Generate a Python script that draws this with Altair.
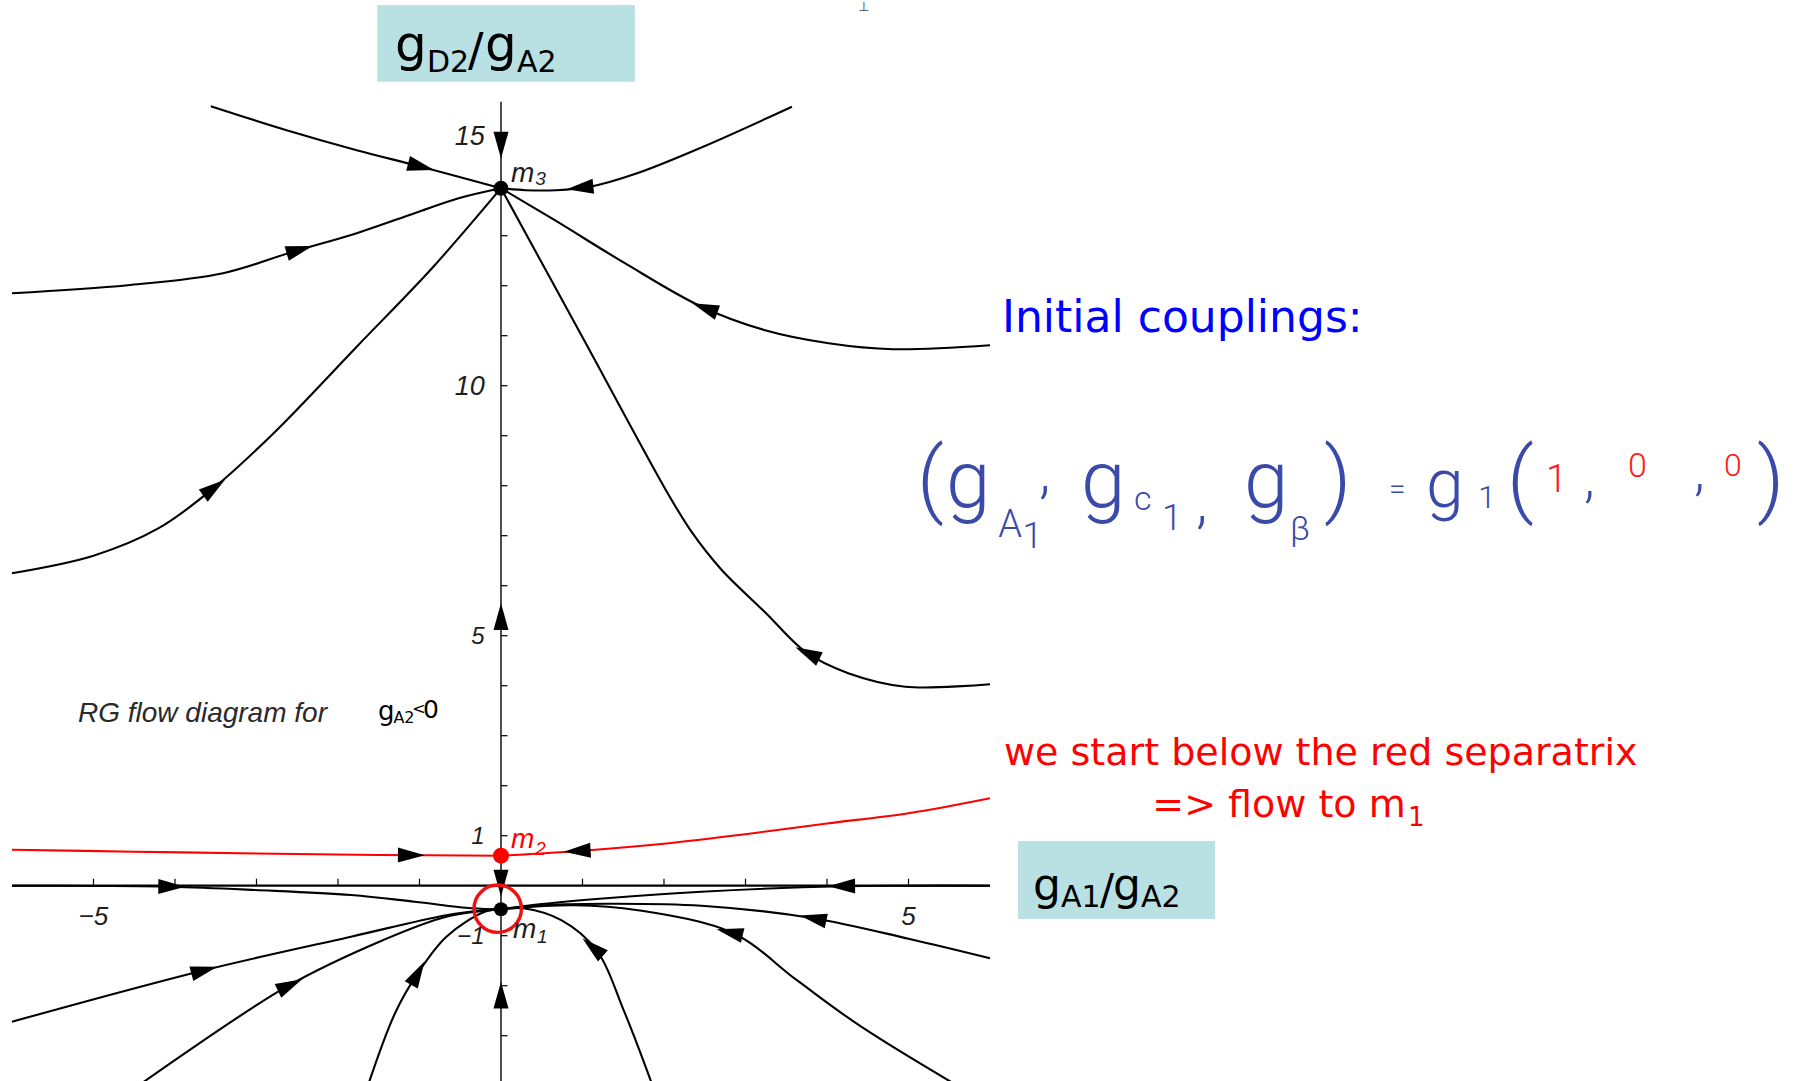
import math
import altair as alt
import pandas as pd

# ---------------------------------------------------------------- canvas / scales
W, H = 1806, 1081
X_DOMAIN = [-6.147, 16.012]      # g_A1 / g_A2
Y_DOMAIN = [-3.906, 17.714]      # g_D2 / g_A2
PX = W / (X_DOMAIN[1] - X_DOMAIN[0])   # pixels per unit, horizontal
PY = H / (Y_DOMAIN[1] - Y_DOMAIN[0])   # pixels per unit, vertical

XS = alt.Scale(domain=X_DOMAIN, nice=False, zero=False)
YS = alt.Scale(domain=Y_DOMAIN, nice=False, zero=False)


def xe(field="x"):
    return alt.X(f"{field}:Q", scale=XS, axis=None)


def ye(field="y"):
    return alt.Y(f"{field}:Q", scale=YS, axis=None)


# ---------------------------------------------------------------- fixed points
M1 = (0.0, -0.47)
M2 = (0.0, 0.60)
M3 = (0.0, 13.95)

# ---------------------------------------------------------------- flow lines (listed along the flow)
c1_x = [-3.56, -2.63, -1.77, -0.98, 0.0]
c1_y = [15.59, 15.11, 14.71, 14.38, 13.95]

c2_x = [3.57, 2.48, 1.67, 1.09, 0.68, 0.30, 0.0]
c2_y = [15.58, 14.78, 14.25, 13.98, 13.91, 13.91, 13.95]

c3_x = [-6.0, -4.58, -3.41, -2.55, -1.77, -1.06, -0.52, 0.0]
c3_y = [11.85, 12.01, 12.25, 12.68, 13.05, 13.45, 13.75, 13.95]

c4_x = [-6.0, -5.0, -4.2, -3.52, -2.79, -1.77, -0.83, 0.0]
c4_y = [6.25, 6.60, 7.15, 7.96, 9.05, 10.78, 12.38, 13.95]

c5_x = [6.0, 4.81, 4.02, 3.24, 2.46, 1.52, 0.66, 0.0]
c5_y = [10.81, 10.73, 10.85, 11.11, 11.58, 12.45, 13.31, 13.95]

c7_x = [6.0, 4.96, 4.26, 3.75, 3.24, 2.70, 2.35, 2.07, 1.0, 0.0]
c7_y = [4.03, 3.98, 4.25, 4.66, 5.47, 6.33, 7.05, 7.78, 10.97, 13.95]

lu_x = [-6.0, -5.0, -4.04, -3.02, -1.84, -1.06, -0.36, 0.0]
lu_y = [0.0, -0.005, -0.02, -0.086, -0.186, -0.32, -0.452, -0.47]

ru_x = [6.0, 5.0, 4.18, 2.46, 1.29, 0.50, 0.0]
ru_y = [0.0, 0.0, -0.01, -0.12, -0.25, -0.366, -0.47]

r2_x = [6.0, 5.0, 3.83, 2.46, 1.29, 0.40, 0.0]
r2_y = [-1.45, -1.06, -0.65, -0.40, -0.36, -0.40, -0.47]

r3_x = [5.60, 4.42, 3.63, 2.85, 1.68, 0.90, 0.0]
r3_y = [-4.00, -2.82, -1.89, -0.95, -0.49, -0.39, -0.47]

r4_x = [1.86, 1.52, 1.17, 0.74, 0.27, 0.0]
r4_y = [-4.00, -2.55, -1.29, -0.69, -0.45, -0.47]

l1_x = [-6.0, -3.64, -1.84, -0.67, -0.20, 0.0]
l1_y = [-2.72, -1.69, -1.02, -0.59, -0.49, -0.47]

l2_x = [-4.45, -2.63, -1.45, -0.67, 0.0]
l2_y = [-4.00, -2.02, -1.09, -0.62, -0.47]

l3_x = [-1.633, -1.30, -1.02, -0.67, -0.20, 0.0]
l3_y = [-4.00, -2.55, -1.75, -1.02, -0.52, -0.47]

# red separatrix, both halves flowing into m2
sep_l_x = [-6.0, -4.5, -3.0, -1.5, 0.0]
sep_l_y = [0.72, 0.68, 0.645, 0.615, 0.60]
sep_r_x = [6.0, 5.0, 4.0, 3.0, 2.0, 1.0, 0.0]
sep_r_y = [1.75, 1.45, 1.245, 1.03, 0.84, 0.70, 0.60]

# flow along the g_D2/g_A2 axis itself
ax_top_x, ax_top_y = [0.0, 0.0], [15.68, 13.95]
ax_up_x, ax_up_y = [0.0, 0.0], [0.60, 13.95]
ax_dn_x, ax_dn_y = [0.0, 0.0], [0.60, -0.47]
ax_bot_x, ax_bot_y = [0.0, 0.0], [-3.906, -0.47]

BLACK_FLOWS = {
    "c1": (c1_x, c1_y), "c2": (c2_x, c2_y), "c3": (c3_x, c3_y),
    "c4": (c4_x, c4_y), "c5": (c5_x, c5_y), "c7": (c7_x, c7_y),
    "lu": (lu_x, lu_y), "ru": (ru_x, ru_y), "r2": (r2_x, r2_y),
    "r3": (r3_x, r3_y), "r4": (r4_x, r4_y), "l1": (l1_x, l1_y),
    "l2": (l2_x, l2_y), "l3": (l3_x, l3_y),
}
RED_FLOWS = {"sep_l": (sep_l_x, sep_l_y), "sep_r": (sep_r_x, sep_r_y)}
AXIS_FLOWS = {
    "ax_top": (ax_top_x, ax_top_y), "ax_up": (ax_up_x, ax_up_y),
    "ax_dn": (ax_dn_x, ax_dn_y), "ax_bot": (ax_bot_x, ax_bot_y),
}

# arrowheads: (flow line, approximate location)
ARROWS = [
    ("c1", -0.98, 14.38), ("c2", 0.97, 13.95), ("c3", -2.47, 12.71),
    ("c4", -3.52, 7.96), ("c5", 2.50, 11.55), ("c7", 3.75, 4.62),
    ("sep_l", -1.10, 0.61), ("sep_r", 0.935, 0.69),
    ("lu", -4.04, -0.02), ("ru", 4.18, -0.01),
    ("r2", 3.83, -0.65), ("r3", 2.81, -0.90), ("r4", 1.13, -1.22),
    ("l1", -3.64, -1.69), ("l2", -2.59, -1.98), ("l3", -1.02, -1.75),
    ("ax_top", 0.0, 14.81), ("ax_up", 0.0, 5.38),
    ("ax_dn", 0.0, 0.05), ("ax_bot", 0.0, -2.19),
]

Y_TICKS = [v for v in range(-3, 16) if v != 0]
X_TICKS = [v for v in range(-5, 6) if v != 0]
Y_TICK_LABELS = [15, 10, 5, 1, -1]
X_TICK_LABELS = [-5, 5]


# ---------------------------------------------------------------- helpers
def curves_frame(curves):
    rows = []
    for name, (xs, ys) in curves.items():
        for i, (x, y) in enumerate(zip(xs, ys)):
            rows.append({"curve": name, "ord": i, "x": x, "y": y})
    return pd.DataFrame(rows)


def arrow_on(xs, ys, qx, qy):
    """Snap a point onto a flow line and return it with the heading angle."""
    best = None
    for i in range(len(xs) - 1):
        ax, ay = xs[i] * PX, ys[i] * PY
        bx, by = xs[i + 1] * PX, ys[i + 1] * PY
        px, py = qx * PX, qy * PY
        dx, dy = bx - ax, by - ay
        l2 = dx * dx + dy * dy
        t = 0.0 if l2 == 0 else max(0.0, min(1.0, ((px - ax) * dx + (py - ay) * dy) / l2))
        cx, cy = ax + t * dx, ay + t * dy
        d = (px - cx) ** 2 + (py - cy) ** 2
        if best is None or d < best[0]:
            best = (d, cx / PX, cy / PY, dx, dy)
    _, x, y, dx, dy = best
    return x, y, math.degrees(math.atan2(dx, dy)) % 360


ALL_FLOWS = {**BLACK_FLOWS, **RED_FLOWS, **AXIS_FLOWS}
arrow_rows = []
for name, ax_, ay_ in ARROWS:
    xs, ys = ALL_FLOWS[name]
    x, y, ang = arrow_on(xs, ys, ax_, ay_)
    arrow_rows.append({"x": x, "y": y, "angle": ang})
arrows_df = pd.DataFrame(arrow_rows)

ARROW_SHAPE = "M0,-1L0.56,1L-0.56,1Z"

# ---------------------------------------------------------------- layers
black_lines = alt.Chart(curves_frame(BLACK_FLOWS)).mark_line(
    color="black", strokeWidth=2.1, interpolate="catmull-rom"
).encode(x=xe(), y=ye(), detail="curve:N", order="ord:Q")

red_lines = alt.Chart(curves_frame(RED_FLOWS)).mark_line(
    color="#ff0000", strokeWidth=2.1, interpolate="catmull-rom"
).encode(x=xe(), y=ye(), detail="curve:N", order="ord:Q")

axes_df = pd.DataFrame([
    {"x": 0.0, "x2": 0.0, "y": Y_DOMAIN[0], "y2": 15.68, "w": 1.4},
    {"x": -6.0, "x2": 6.0, "y": 0.0, "y2": 0.0, "w": 2.2},
])
axes = alt.Chart(axes_df).mark_rule(color="black").encode(
    x=xe(), x2="x2:Q", y=ye(), y2="y2:Q",
    strokeWidth=alt.StrokeWidth("w:Q", scale=None),
)

tick_rows = [{"x": 0.0, "x2": 6.5 / PX, "y": v, "y2": v} for v in Y_TICKS]
tick_rows += [{"x": v, "x2": v, "y": 0.0, "y2": 7.0 / PY} for v in X_TICKS]
ticks = alt.Chart(pd.DataFrame(tick_rows)).mark_rule(color="black", strokeWidth=1.2).encode(
    x=xe(), x2="x2:Q", y=ye(), y2="y2:Q"
)

arrows = alt.Chart(arrows_df).mark_point(
    shape=ARROW_SHAPE, filled=True, color="black", size=720, opacity=1, strokeWidth=0
).encode(x=xe(), y=ye(), angle=alt.Angle("angle:Q", scale=None))

pts_df = pd.DataFrame([
    {"x": M3[0], "y": M3[1], "c": "black", "s": 225},
    {"x": M2[0], "y": M2[1], "c": "#ff0000", "s": 256},
    {"x": M1[0], "y": M1[1], "c": "black", "s": 196},
])
points = alt.Chart(pts_df).mark_point(shape="circle", filled=True, opacity=1, strokeWidth=0).encode(
    x=xe(), y=ye(),
    color=alt.Color("c:N", scale=None),
    size=alt.Size("s:Q", scale=None),
)

ring = alt.Chart(pd.DataFrame([{"x": -0.04, "y": -0.46}])).mark_point(
    shape="circle", filled=False, color="#ee1111", size=2247, strokeWidth=3.4, opacity=1
).encode(x=xe(), y=ye())

boxes_df = pd.DataFrame([
    {"x": -1.518, "x2": 1.644, "y": 16.08, "y2": 17.614},
    {"x": 6.344, "x2": 8.761, "y": -0.666, "y2": 0.894},
])
boxes = alt.Chart(boxes_df).mark_rect(color="#b9e0e3").encode(
    x=xe(), x2="x2:Q", y=ye(), y2="y2:Q"
)


def text_layer(rows, font, align="left", style="normal", weight="normal"):
    df = pd.DataFrame(rows, columns=["text", "x", "y", "size", "color"])
    return alt.Chart(df).mark_text(
        align=align, baseline="alphabetic", font=font, fontStyle=style, fontWeight=weight
    ).encode(
        x=xe(), y=ye(), text="text:N",
        size=alt.Size("size:Q", scale=None),
        color=alt.Color("color:N", scale=None),
    )


INK = "#1e1e1e"


def fmt(v):
    return str(v) if v >= 0 else "\u2212" + str(-v)


# tick labels (Mathematica style, italic)
ylab_rows = []
for v in Y_TICK_LABELS:
    size = 27 if abs(v) >= 10 else 24
    ylab_rows.append([fmt(v), -0.2, v - 0.36 * size / PY, size, INK])
xlab_rows = [[fmt(v), v, -0.786, 26, INK] for v in X_TICK_LABELS]

tick_labels_y = text_layer(ylab_rows, "Liberation Sans", align="right", style="italic")
tick_labels_x = text_layer(xlab_rows, "Liberation Sans", align="center", style="italic")

# fixed point names
m_rows = [
    ["m", 0.123, 14.08, 28, INK],
    ["m", 0.123, 0.748, 28, "#ff0000"],
    ["m", 0.147, -1.052, 28, INK],
    ["RG flow diagram for", -5.19, 3.28, 28, "#2a2a2a"],
]
m_sub_rows = [
    ["3", 0.42, 14.01, 19, INK],
    ["2", 0.42, 0.614, 19, "#ff0000"],
    ["1", 0.442, -1.152, 19, INK],
]
m_labels = text_layer(m_rows, "Liberation Sans", style="italic")
m_subs = text_layer(m_sub_rows, "Liberation Sans", style="italic")

# coupling labels and notes
note_rows = [
    # vertical axis title box
    ["g", -1.30, 16.494, 50, "black"],
    ["D2", -0.908, 16.274, 30, "black"],
    ["/", -0.405, 16.394, 46, "black"],
    ["g", -0.196, 16.494, 50, "black"],
    ["A2", 0.196, 16.274, 30, "black"],
    # horizontal axis title box
    ["g", 6.528, -0.286, 44, "black"],
    ["A1", 6.871, -0.416, 30, "black"],
    ["/", 7.35, -0.366, 42, "black"],
    ["g", 7.509, -0.286, 44, "black"],
    ["A2", 7.853, -0.416, 30, "black"],
    # sign condition
    ["g", -1.51, 3.314, 26, "black"],
    ["A2", -1.32, 3.248, 16, "black"],
    ["<", -1.09, 3.434, 16, "black"],
    ["0", -0.957, 3.348, 25, "black"],
    # notes
    ["Initial couplings:", 6.147, 11.08, 44, "#0000ff"],
    ["we start below the red separatrix", 6.172, 2.414, 38, "#ff0000"],
    ["1", 11.13, 1.194, 26, "#ff0000"],
]
notes = text_layer(note_rows, "DejaVu Sans")
notes_right = text_layer([["=> flow to m", 11.10, 1.38, 38, "#ff0000"]], "DejaVu Sans", align="right")

corner_mark = text_layer([["\u22a5", 4.454, 17.49, 13, "#444444"]], "DejaVu Sans", align="center")

# hand-written initial condition
PEN = "#3a4aa8"
RED_PEN = "#ff1a1a"
formula_rows = [
    ["(", 5.104, 7.574, 84, PEN],
    ["g", 5.46, 7.574, 80, PEN],
    ["A", 6.10, 6.974, 38, PEN],
    ["1", 6.40, 6.754, 36, PEN],
    [",", 6.60, 7.874, 60, PEN],
    ["g", 7.117, 7.574, 80, PEN],
    ["c", 7.767, 7.514, 34, PEN],
    ["1", 8.11, 7.114, 36, PEN],
    [",", 8.528, 7.274, 60, PEN],
    ["g", 9.117, 7.574, 80, PEN],
    ["\u03b2", 9.68, 6.914, 34, PEN],
    [")", 10.098, 7.574, 84, PEN],
    ["=", 10.896, 7.734, 30, PEN],
    ["g", 11.35, 7.574, 68, PEN],
    ["1", 11.988, 7.554, 32, PEN],
    ["(", 12.344, 7.574, 84, PEN],
    ["1", 12.822, 7.874, 38, RED_PEN],
    [",", 13.288, 7.794, 56, PEN],
    ["0", 13.828, 8.174, 34, RED_PEN],
    [",", 14.638, 7.934, 56, PEN],
    ["0", 15.006, 8.194, 32, RED_PEN],
    [")", 15.411, 7.574, 84, PEN],
]
formula = text_layer(formula_rows, "Roboto", weight=300)

chart = alt.layer(
    boxes, black_lines, red_lines, axes, ticks, arrows, points, ring,
    tick_labels_y, tick_labels_x, m_labels, m_subs,
    notes, notes_right, corner_mark, formula,
).properties(
    width=W, height=H, padding=0,
    autosize=alt.AutoSizeParams(type="none"),
    background="white",
).configure_view(stroke=None)

chart.save("out.html", embed_options={"renderer": "svg", "actions": False})
